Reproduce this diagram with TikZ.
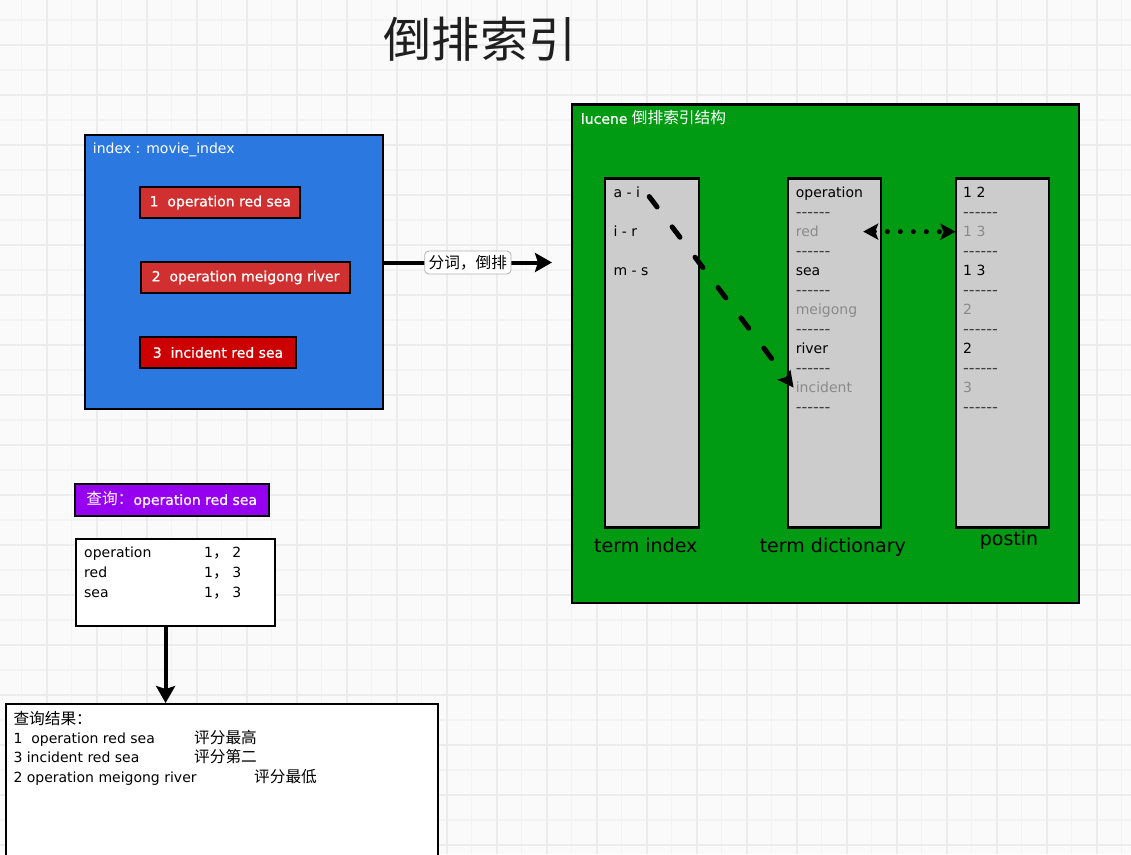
\documentclass[tikz,border=0pt]{standalone}
\usepackage{fontspec}
\setmainfont{DejaVu Sans}
\newfontfamily\tagfont{DejaVu Sans}[FakeBold=0.8]
\newfontfamily\cjk[Scale=1.12]{Noto Sans CJK SC}
\usetikzlibrary{arrows.meta,calc}
\definecolor{bg}{HTML}{FAFAFA}
\definecolor{gridminor}{HTML}{F3F3F3}
\definecolor{gridmajor}{HTML}{ECECEC}
\definecolor{boxblue}{HTML}{2C78E1}
\definecolor{boxred}{HTML}{D03030}
\definecolor{boxredd}{HTML}{CC0000}
\definecolor{boxgreen}{HTML}{009A13}
\definecolor{boxpurple}{HTML}{9600F0}
\definecolor{colgray}{HTML}{CCCCCC}
\definecolor{txtgray}{HTML}{8A8A8A}
\newcommand\hy{-\kern0pt}
\newcommand\dashes{\hy\hy\hy\hy\hy\hy}
\begin{document}
\begin{tikzpicture}[x=1pt,y=-1pt,
  base/.style={inner sep=0pt,font=\fontsize{14}{16}\selectfont},
  item/.style={base,anchor=base west},
  dim/.style={text=txtgray},
  dashrow/.style={inner sep=0pt,anchor=base west,font=\fontsize{16}{16}\selectfont,text=black!75},
  frame/.style={draw=black,line width=2.2pt,anchor=north west,inner sep=0pt},
  tag/.style={draw=black,line width=1.8pt,inner sep=0pt,text=white,font=\tagfont\fontsize{14}{16}\selectfont},
  column/.style={frame,fill=colgray},
  collabel/.style={inner sep=0pt,anchor=base,font=\fontsize{19}{22}\selectfont},
  bigarrow/.style={line width=4pt,-{Stealth[length=17pt,width=19pt,inset=3pt]}},
  dasharrow/.style={line width=5pt,line cap=round,dash pattern=on 13pt off 25pt,-{Stealth[length=16pt,width=16pt,inset=3pt]}},
  dotarrow/.style={line width=5pt,line cap=round,dash pattern=on 0pt off 13pt,{Stealth[length=15pt,width=16pt,inset=3pt]}-{Stealth[length=15pt,width=16pt,inset=3pt]}},
]
\clip (0,0) rectangle (1131,854);
\fill[bg] (0,0) rectangle (1131,854);
\foreach \k in {0,...,45} \draw[gridminor,line width=1.2pt] ({21.7+25*\k},0) -- ++(0,854);
\foreach \k in {0,...,34} \draw[gridminor,line width=1.2pt] (0,{20+25*\k}) -- ++(1131,0);
\foreach \k in {0,...,22} \draw[gridmajor,line width=2pt] ({46.7+50*\k},0) -- ++(0,854);
\foreach \k in {0,...,17} \draw[gridmajor,line width=2pt] (0,{45+50*\k}) -- ++(1131,0);

% title
\node[font=\cjk\fontsize{43}{48}\selectfont,text=black!88,inner sep=0pt] (title) at (480,39) {倒排索引};

% blue index box
\node[frame,fill=boxblue,minimum width=298pt,minimum height=274pt] (blue) at (83.5,134) {};
\node[item,text=white] (bluelbl) at (92.7,153.8) {index : movie\_index};
\node[tag,fill=boxred,minimum width=160pt,minimum height=31pt] (m1) at (220.3,202.5) {1\ \ operation red sea};
\node[tag,fill=boxred,minimum width=209pt,minimum height=31pt] (m2) at (245.5,277.5) {2\ \ operation meigong river};
\node[tag,fill=boxredd,minimum width=156pt,minimum height=31pt] (m3) at (218,352.5) {3\ \ incident red sea};

% green lucene box
\node[frame,fill=boxgreen,minimum width=507pt,minimum height=498.5pt] (green) at (571,103.3) {};
\node[item,text=white] (greenlbl) at (580.7,123.8) {{\tagfont lucene} {\cjk 倒排索引结构}};

\node[column,minimum width=94pt,minimum height=349pt] (tic) at (604,177.3) {};
\node[column,minimum width=93pt,minimum height=349pt] (tdc) at (786.5,177.3) {};
\node[column,minimum width=92.5pt,minimum height=349pt] (poc) at (955,177.3) {};

% term index
\node[item] (ai) at (613.4,197.8) {a - i};
\node[item] (ir) at (613.4,236.8) {i - r};
\node[item] (ms) at (613.4,275.8) {m - s};

% term dictionary
\node[item] (operation) at (795.6,197.8) {operation};
\node[item,dim] (red) at (795.6,236.8) {red};
\node[item] (sea) at (795.6,275.8) {sea};
\node[item,dim] (meigong) at (795.6,314.8) {meigong};
\node[item] (river) at (795.6,353.8) {river};
\node[item,dim] (incident) at (795.6,392.8) {incident};
\foreach \k in {1,3,...,11} \node[dashrow] (dd\k) at (795.6,{197.8+19.5*\k}) {\dashes};

% postings
\node[item] (p12) at (963,197.8) {1 2};
\node[item,dim] (p13a) at (963,236.8) {1 3};
\node[item] (p13b) at (963,275.8) {1 3};
\node[item,dim] (p2a) at (963,314.8) {2};
\node[item] (p2b) at (963,353.8) {2};
\node[item,dim] (p3) at (963,392.8) {3};
\foreach \k in {1,3,...,11} \node[dashrow] (pd\k) at (963,{197.8+19.5*\k}) {\dashes};

\node[collabel] (til) at (645.8,552) {term index};
\node[collabel] (tdl) at (832.8,552) {term dictionary};
\node[collabel] (pol) at (1009,545.5) {postin};

\draw[dasharrow] ($(ai.east)+(9,4)$) -- ($(incident.west)+(-2,0)$);
\draw[dotarrow] ($(red.east -| tdc.east)+(-18.5,0)$) -- ($(p13a.west)+(-7.5,0)$);

% main arrow
\coordinate (mainend) at (552,262.5);
\draw[bigarrow] (blue.east |- mainend) -- node[fill=white,draw=black!30,line width=0.8pt,rounded corners=4pt,inner xsep=4pt,inner ysep=4pt,font=\cjk\fontsize{14}{16}\selectfont] (cut) {分词，倒排} (mainend);

% query
\node[frame,line width=1.5pt,fill=boxpurple,minimum width=194pt,minimum height=32pt,text=white,font=\tagfont\fontsize{14}{16}\selectfont] (query) at (74,483) {{\cjk 查询：}operation red sea};

% table
\node[frame,fill=white,minimum width=199pt,minimum height=87pt] (table) at (75,538) {};
\node[item] (t1) at (84,557) {operation};
\node[item] (t1n) at (204,557) {1{\cjk ，}\hspace{3.5pt}2};
\node[item] (t2) at (84,577) {red};
\node[item] (t2n) at (204,577) {1{\cjk ，}\hspace{3.5pt}3};
\node[item] (t3) at (84,597) {sea};
\node[item] (t3n) at (204,597) {1{\cjk ，}\hspace{3.5pt}3};

% result
\node[frame,fill=white,minimum width=432.5pt,minimum height=200pt] (res) at (4.7,703) {};
\coordinate (dtop) at ($(table.south)+(-10,0)$);
\draw[bigarrow] (dtop) -- (dtop |- res.north);
\node[item] (rh) at (13.3,724) {\cjk 查询结果：};
\node[item] (r1) at (13.3,743.5) {1\ \ operation red sea};
\node[item] (r1s) at (194,743.5) {\cjk 评分最高};
\node[item] (r2) at (13.3,762) {3 incident red sea};
\node[item] (r2s) at (194,762) {\cjk 评分第二};
\node[item] (r3) at (13.3,782.5) {2 operation meigong river};
\node[item] (r3s) at (254,782.5) {\cjk 评分最低};
\end{tikzpicture}
\end{document}
